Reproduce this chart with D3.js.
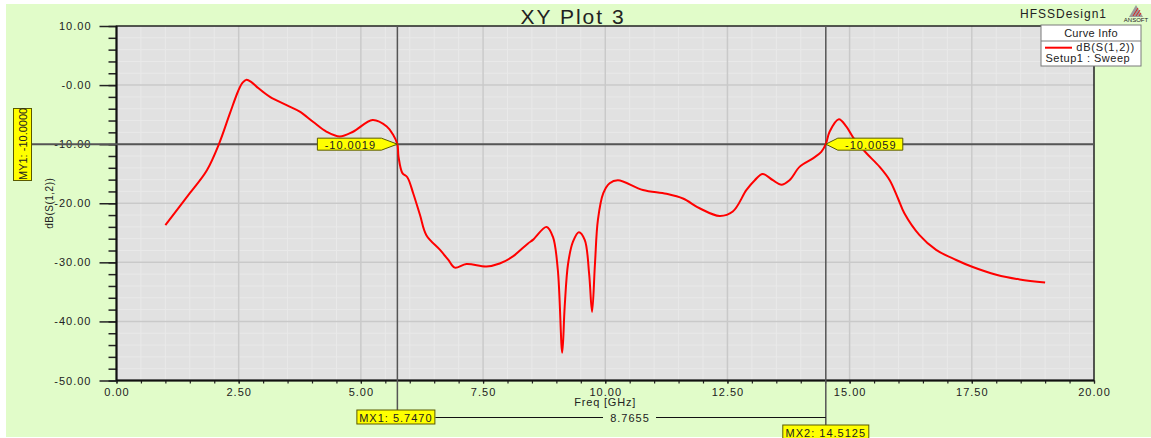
<!DOCTYPE html>
<html>
<head>
<meta charset="utf-8">
<script src="https://cdn.jsdelivr.net/npm/d3@7/dist/d3.min.js"></script>
<style>
  body { margin: 0; background: #fff; }
  text { font-family: "Liberation Sans", Arial, sans-serif; fill: #222; }
</style>
</head>
<body>
<div id="chart"></div>
<script>
// curve dB(S(1,2))
var freq = [1.0, 1.5, 1.85, 2.1, 2.32, 2.49, 2.58, 2.66, 2.76, 2.87, 3.14, 3.48, 3.75, 4.02, 4.30, 4.57, 4.84,
  5.24, 5.53, 5.66, 5.747, 5.77, 5.85, 5.95, 6.07, 6.21, 6.34, 6.62, 6.79, 6.92, 7.16, 7.57,
  7.84, 8.11, 8.42, 8.52, 8.80, 8.93, 9.03, 9.12, 9.17, 9.24, 9.34, 9.46, 9.58, 9.67, 9.73,
  9.79, 9.85, 9.96, 10.09, 10.26, 10.77, 11.25, 11.59, 11.93, 12.34, 12.61, 12.89, 13.06,
  13.22, 13.43, 13.60, 13.77, 13.98, 14.25, 14.42, 14.5125, 14.59, 14.78, 14.93, 15.07,
  15.34, 15.61, 15.82, 15.99, 16.12, 16.43, 16.77, 17.18, 17.52, 18.0, 18.48, 19.0];
var dbS12 = [-23.7, -18.3, -14.4, -9.9, -4.8, -1.0, 0.4, 0.9, 0.5, -0.3, -2.0, -3.4, -4.5, -6.2, -7.9, -8.7, -7.9,
  -5.9, -7.0, -8.4, -10.0, -12.1, -14.9, -15.6, -18.3, -22.0, -25.4, -27.9, -29.6, -30.9, -30.3, -30.7,
  -30.2, -29.0, -26.8, -26.2, -24.0, -25.7, -31.3, -45.3, -37.5, -30.2, -26.5, -24.9, -26.2, -31.9, -38.4,
  -30.2, -22.8, -18.3, -16.6, -16.1, -17.75, -18.4, -19.2, -20.85, -22.15, -21.4, -17.75, -16.1,
  -15.05, -16.1, -16.85, -16.1, -13.8, -12.4, -11.3, -10.0, -7.9, -5.8, -7.0, -8.84,
  -11.5, -13.8, -16.1, -19.2, -21.7, -25.4, -27.9, -29.6, -30.8, -32.1, -32.9, -33.4];

var xTicks = [0, 2.5, 5, 7.5, 10, 12.5, 15, 17.5, 20];
var xTickLabels = ["0.00", "2.50", "5.00", "7.50", "10.00", "12.50", "15.00", "17.50", "20.00"];
var yTicks = [10, 0, -10, -20, -30, -40, -50];
var yTickLabels = ["10.00", "-0.00", "-10.00", "-20.00", "-30.00", "-40.00", "-50.00"];

// markers
var markerXNames = ["MX1", "MX2"];
var markerXFreqs = [5.747, 14.5125];
var markerXLabels = ["5.7470", "14.5125"];
var markerXValues = ["-10.0019", "-10.0059"];
var markerYValue = -10.0;
var markerYLabel = "MY1: -10.0000";
var markerDelta = "8.7655";

var W = 1151, H = 438;
var margin = {top: 26, right: 57, bottom: 57.5, left: 116.5},
    width = W - margin.left - margin.right,
    height = H - margin.top - margin.bottom;

var green = "#e1fcc9";

var svg = d3.select("#chart").append("svg")
    .attr("width", W)
    .attr("height", H);

svg.append("rect").attr("width", W).attr("height", H).attr("fill", "#fff");
svg.append("rect").attr("x", 6).attr("y", 4).attr("width", W - 6).attr("height", 433).attr("fill", green);

var x = d3.scaleLinear().domain([0, 20]).range([0, width]);
var y = d3.scaleLinear().domain([-50, 10]).range([height, 0]);

var g = svg.append("g")
    .attr("transform", "translate(" + margin.left + "," + margin.top + ")");

// plot background
g.append("rect").attr("width", width).attr("height", height).attr("fill", "#e1e1e1");

// minor grid
g.append("g").selectAll("line")
    .data(d3.range(0.5, 20, 0.5))
  .enter().append("line")
    .attr("x1", function(d) { return x(d); }).attr("x2", function(d) { return x(d); })
    .attr("y1", 0).attr("y2", height)
    .attr("stroke", "#e9e9e9").attr("stroke-width", 1);
g.append("g").selectAll("line")
    .data(d3.range(-48, 10, 2))
  .enter().append("line")
    .attr("y1", function(d) { return y(d); }).attr("y2", function(d) { return y(d); })
    .attr("x1", 0).attr("x2", width)
    .attr("stroke", "#e9e9e9").attr("stroke-width", 1);

// major grid
g.append("g").selectAll("line")
    .data(xTicks.slice(1, -1))
  .enter().append("line")
    .attr("x1", function(d) { return x(d); }).attr("x2", function(d) { return x(d); })
    .attr("y1", 0).attr("y2", height)
    .attr("stroke", "#c9c9c9").attr("stroke-width", 1.5);
g.append("g").selectAll("line")
    .data(yTicks.slice(1, -1))
  .enter().append("line")
    .attr("y1", function(d) { return y(d); }).attr("y2", function(d) { return y(d); })
    .attr("x1", 0).attr("x2", width)
    .attr("stroke", "#c9c9c9").attr("stroke-width", 1.5);

// axes
var yAxisMinor = d3.axisLeft(y).tickValues(d3.range(-50, 10.1, 2)).tickSize(8).tickFormat("");
var yAxis = d3.axisLeft(y).tickValues(yTicks).tickSize(17).tickPadding(8)
    .tickFormat(function(d, i) { return yTickLabels[i]; });
var xAxisMinor = d3.axisBottom(x).tickValues(d3.range(0, 20.1, 0.5)).tickSize(3).tickFormat("");
var xAxis = d3.axisBottom(x).tickValues(xTicks).tickSize(3).tickPadding(5)
    .tickFormat(function(d, i) { return xTickLabels[i]; });

[g.append("g").call(yAxisMinor), g.append("g").call(yAxis)].forEach(function(a) {
  a.select(".domain").remove();
  a.selectAll(".tick line").attr("stroke", "#222").attr("stroke-width", 1.5);
});
[g.append("g").attr("transform", "translate(0," + height + ")").call(xAxisMinor),
 g.append("g").attr("transform", "translate(0," + height + ")").call(xAxis)].forEach(function(a) {
  a.select(".domain").remove();
  a.selectAll(".tick line").attr("stroke", "#222").attr("stroke-width", 1.2);
});
g.selectAll(".tick text")
    .style("font-family", "'Liberation Sans', Arial, sans-serif")
    .style("font-size", "11px").style("letter-spacing", "1px").attr("fill", "#1a1a1a");

// frame
g.append("rect").attr("width", width).attr("height", height)
    .attr("fill", "none").attr("stroke", "#222").attr("stroke-width", 1.5);
g.append("line").attr("x1", 0).attr("x2", 0).attr("y1", 0).attr("y2", height)
    .attr("stroke", "#111").attr("stroke-width", 2);
g.append("line").attr("x1", 0).attr("x2", width).attr("y1", height).attr("y2", height)
    .attr("stroke", "#111").attr("stroke-width", 2);

// marker lines
var yM = y(markerYValue);
g.append("line").attr("x1", 31 - margin.left).attr("x2", width).attr("y1", yM).attr("y2", yM)
    .attr("stroke", "#555").attr("stroke-width", 2);
var mxBottom = [410, 425];
markerXFreqs.forEach(function(f, i) {
  g.append("line").attr("x1", x(f)).attr("x2", x(f))
      .attr("y1", 0).attr("y2", mxBottom[i] - margin.top)
      .attr("stroke", "#555").attr("stroke-width", 1.5);
});

// curve
var pts = freq.map(function(f, i) { return [f, dbS12[i]]; });
var line = d3.line()
    .x(function(d) { return x(d[0]); })
    .y(function(d) { return y(d[1]); })
    .curve(d3.curveCatmullRom.alpha(0.5));
g.append("path").datum(pts)
    .attr("d", line)
    .attr("fill", "none").attr("stroke", "#ff0000").attr("stroke-width", 2)
    .attr("stroke-linejoin", "round");

// marker flags
var flagFill = "#ffff00", flagStroke = "#5a5a00";
var x1 = x(markerXFreqs[0]), x2 = x(markerXFreqs[1]);
g.append("polygon")
    .attr("points", [[x1 - 80, yM - 6], [x1 - 16, yM - 6], [x1, yM], [x1 - 16, yM + 6], [x1 - 80, yM + 6]].join(" "))
    .attr("fill", flagFill).attr("stroke", flagStroke).attr("stroke-width", 1);
g.append("text").attr("x", x1 - 47).attr("y", yM + 4.5).attr("text-anchor", "middle")
    .style("font-size", "11px").style("letter-spacing", "1px").text(markerXValues[0]);
g.append("polygon")
    .attr("points", [[x2, yM], [x2 + 12, yM - 6], [x2 + 77, yM - 6], [x2 + 77, yM + 6], [x2 + 12, yM + 6]].join(" "))
    .attr("fill", flagFill).attr("stroke", flagStroke).attr("stroke-width", 1);
g.append("text").attr("x", x2 + 45).attr("y", yM + 4.5).attr("text-anchor", "middle")
    .style("font-size", "11px").style("letter-spacing", "1px").text(markerXValues[1]);

// outside-of-plot annotations (svg coords)
var X1 = margin.left + x1, X2 = margin.left + x2;

// MY1 box
svg.append("rect").attr("x", 13.5).attr("y", 108.5).attr("width", 18).attr("height", 72)
    .attr("fill", flagFill).attr("stroke", flagStroke).attr("stroke-width", 1);
svg.append("text").attr("transform", "translate(27," + 180 + ") rotate(-90)")
    .style("font-size", "11px").text(markerYLabel);

// MX labels + delta connector
svg.append("line").attr("x1", X1 + 38).attr("x2", X2).attr("y1", 417.5).attr("y2", 417.5)
    .attr("stroke", "#111").attr("stroke-width", 1);
svg.append("rect").attr("x", 603).attr("y", 410).attr("width", 53).attr("height", 14).attr("fill", green);
svg.append("text").attr("x", 630).attr("y", 421.5).attr("text-anchor", "middle")
    .style("font-size", "11px").style("letter-spacing", "1px").text(markerDelta);

svg.append("rect").attr("x", X1 - 40.5).attr("y", 410).attr("width", 78).attr("height", 14)
    .attr("fill", flagFill).attr("stroke", flagStroke).attr("stroke-width", 1);
svg.append("text").attr("x", X1 - 1.5).attr("y", 421.5).attr("text-anchor", "middle")
    .style("font-size", "11px").style("letter-spacing", "1px")
    .text(markerXNames[0] + ": " + markerXLabels[0]);
svg.append("rect").attr("x", X2 - 43).attr("y", 425).attr("width", 86).attr("height", 14)
    .attr("fill", flagFill).attr("stroke", flagStroke).attr("stroke-width", 1);
svg.append("text").attr("x", X2).attr("y", 436.5).attr("text-anchor", "middle")
    .style("font-size", "11px").style("letter-spacing", "1px")
    .text(markerXNames[1] + ": " + markerXLabels[1]);

// axis titles
svg.append("text").attr("x", margin.left + width / 2).attr("y", 406).attr("text-anchor", "middle")
    .style("font-size", "11px").style("letter-spacing", "0.8px").text("Freq [GHz]");
svg.append("text").attr("transform", "translate(53," + (margin.top + height / 2) + ") rotate(-90)")
    .attr("text-anchor", "middle")
    .style("font-size", "10px").style("letter-spacing", "0.5px").text("dB(S(1,2))");

// title + design name
svg.append("text").attr("x", 573).attr("y", 24).attr("text-anchor", "middle")
    .style("font-size", "21px").style("letter-spacing", "2px").text("XY Plot 3");
svg.append("text").attr("x", 1020).attr("y", 17.5)
    .style("font-size", "12px").style("letter-spacing", "1px").text("HFSSDesign1");

// ansoft logo
var logo = svg.append("g").attr("transform", "translate(1123,4)");
logo.append("polygon").attr("points", "6,13 13,1 20,13").attr("fill", "#9a9a9a");
[[10, 12, 15, 4], [13, 12, 17, 6], [16, 12, 18, 9]].forEach(function(s) {
  logo.append("line").attr("x1", s[0]).attr("y1", s[1]).attr("x2", s[2]).attr("y2", s[3])
      .attr("stroke", "#d22").attr("stroke-width", 1);
});
logo.append("text").attr("x", 13).attr("y", 18).attr("text-anchor", "middle")
    .style("font-size", "6px").attr("fill", "#555").text("ANSOFT");

// legend
var lg = svg.append("g").attr("transform", "translate(1041,25)");
lg.append("rect").attr("width", 100).attr("height", 41).attr("fill", "#fff")
    .attr("stroke", "#7a7a7a").attr("stroke-width", 1);
lg.append("line").attr("x1", 0).attr("x2", 100).attr("y1", 16).attr("y2", 16)
    .attr("stroke", "#7a7a7a").attr("stroke-width", 1);
lg.append("text").attr("x", 50).attr("y", 11.5).attr("text-anchor", "middle")
    .style("font-size", "11px").style("letter-spacing", "0.3px").text("Curve Info");
lg.append("line").attr("x1", 4).attr("x2", 31).attr("y1", 22.7).attr("y2", 22.7)
    .attr("stroke", "#ff0000").attr("stroke-width", 2);
lg.append("text").attr("x", 94).attr("y", 26).attr("text-anchor", "end")
    .style("font-size", "11px").style("letter-spacing", "0.8px").text("dB(S(1,2))");
lg.append("text").attr("x", 4.5).attr("y", 36.5)
    .style("font-size", "11px").style("letter-spacing", "0.5px").text("Setup1 : Sweep");
</script>
</body>
</html>
